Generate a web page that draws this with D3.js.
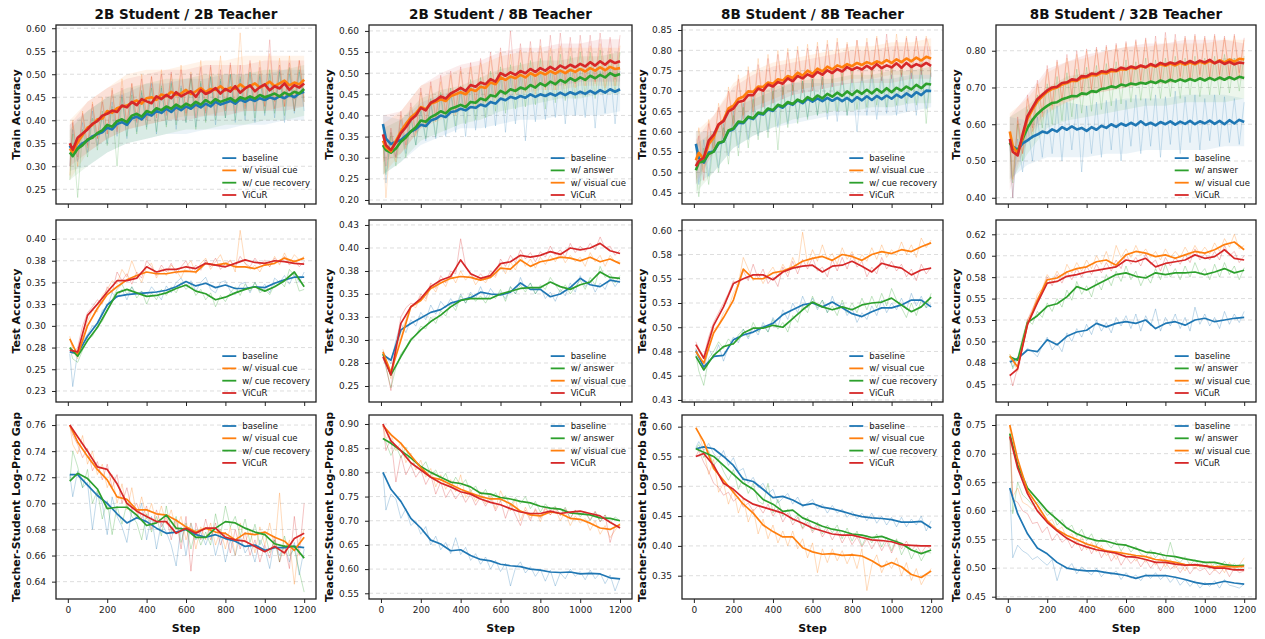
<!DOCTYPE html>
<html>
<head>
<meta charset="utf-8">
<script src="https://cdn.jsdelivr.net/npm/d3@7"></script>
<style>
  body { margin: 0; background: #fff; }
  svg { display: block; }
</style>
</head>
<body>
<svg id="chart" width="1265" height="639"></svg>
<script>
// x positions shared by all panels
var rawSteps = [10].concat(d3.range(25, 1201, 25)); // 49 points
var smoothSteps = [10].concat(d3.range(50, 1201, 50)); // 25 points
var bandSteps = [10].concat(d3.range(100, 1201, 100)); // 13 points
var xTicks = [0, 200, 400, 600, 800, 1000, 1200];

var titles = ["2B Student / 2B Teacher", "2B Student / 8B Teacher", "8B Student / 8B Teacher", "8B Student / 32B Teacher"];
var rowLabels = ["Train Accuracy", "Test Accuracy", "Teacher-Student Log-Prob Gap"];
var legendCue = ["baseline", "w/ visual cue", "w/ cue recovery", "ViCuR"];
var legendAnswer = ["baseline", "w/ answer", "w/ visual cue", "ViCuR"];

// y ticks
var ticksTrain2t2 = [0.25, 0.30, 0.35, 0.40, 0.45, 0.50, 0.55, 0.60];
var ticksTrain2t8 = [0.20, 0.25, 0.30, 0.35, 0.40, 0.45, 0.50, 0.55, 0.60];
var ticksTrain8t8 = [0.45, 0.50, 0.55, 0.60, 0.65, 0.70, 0.75, 0.80, 0.85];
var ticksTrain8t32 = [0.40, 0.50, 0.60, 0.70, 0.80];
var ticksTest2t2 = [0.225, 0.25, 0.275, 0.30, 0.325, 0.35, 0.375, 0.40];
var labelsTest2t2 = ["0.23", "0.25", "0.28", "0.30", "0.33", "0.35", "0.38", "0.40"];
var ticksTest2t8 = [0.25, 0.275, 0.30, 0.325, 0.35, 0.375, 0.40, 0.425];
var labelsTest2t8 = ["0.25", "0.28", "0.30", "0.33", "0.35", "0.38", "0.40", "0.43"];
var ticksTest8t8 = [0.425, 0.45, 0.475, 0.50, 0.525, 0.55, 0.575, 0.60];
var labelsTest8t8 = ["0.43", "0.45", "0.48", "0.50", "0.53", "0.55", "0.58", "0.60"];
var ticksTest8t32 = [0.45, 0.475, 0.50, 0.525, 0.55, 0.575, 0.60, 0.625];
var labelsTest8t32 = ["0.45", "0.48", "0.50", "0.53", "0.55", "0.58", "0.60", "0.62"];
var ticksGap2t2 = [0.64, 0.66, 0.68, 0.70, 0.72, 0.74, 0.76];
var ticksGap2t8 = [0.55, 0.60, 0.65, 0.70, 0.75, 0.80, 0.85, 0.90];
var ticksGap8t8 = [0.35, 0.40, 0.45, 0.50, 0.55, 0.60];
var ticksGap8t32 = [0.45, 0.50, 0.55, 0.60, 0.65, 0.70, 0.75];

// ---- train accuracy, smoothed (rawSteps) ----
var s2t2TrainBaseline = [0.345,0.332,0.340,0.350,0.356,0.365,0.370,
  0.374,0.384,0.380,0.392,0.396,0.390,0.404, 0.408,0.402,0.414,0.410,0.420,0.416,0.425,
  0.418,0.428,0.422,0.430,0.425,0.434,0.428, 0.436,0.430,0.440,0.434,0.438,0.442,0.436,
  0.445,0.440,0.446,0.442,0.448,0.444,0.450, 0.446,0.452,0.448,0.455,0.450,0.458,0.462];
var s2t2TrainVisual = [0.338,0.330,0.352,0.368,0.384,0.390,0.402,
  0.404,0.420,0.416,0.426,0.430,0.432,0.438, 0.443,0.436,0.448,0.450,0.444,0.456,0.452,
  0.462,0.455,0.458,0.466,0.457,0.463,0.470, 0.461,0.468,0.466,0.474,0.465,0.471,0.468,
  0.478,0.470,0.474,0.480,0.471,0.477,0.484, 0.474,0.480,0.486,0.476,0.482,0.478,0.488];
var s2t2TrainRecovery = [0.330,0.322,0.338,0.346,0.358,0.362,0.372,
  0.378,0.390,0.386,0.398,0.402,0.396,0.410, 0.414,0.408,0.420,0.416,0.426,0.422,0.430,
  0.425,0.434,0.428,0.436,0.431,0.440,0.434, 0.444,0.437,0.446,0.440,0.444,0.448,0.441,
  0.450,0.446,0.452,0.447,0.455,0.450,0.454, 0.458,0.452,0.460,0.455,0.462,0.458,0.468];
var s2t2TrainVicur = [0.350,0.336,0.362,0.371,0.380,0.392,0.398,
  0.410,0.414,0.421,0.418,0.432,0.428,0.440, 0.433,0.446,0.441,0.437,0.452,0.446,0.455,
  0.448,0.461,0.452,0.458,0.463,0.451,0.466, 0.457,0.462,0.470,0.458,0.468,0.462,0.474,
  0.460,0.469,0.476,0.463,0.472,0.478,0.465, 0.474,0.469,0.480,0.466,0.476,0.471,0.480];

var s2t8TrainBaseline = [0.380,0.345,0.332,0.338,0.342,0.352,0.362,
  0.368,0.378,0.375,0.388,0.392,0.400,0.396, 0.408,0.410,0.416,0.412,0.420,0.418,0.426,
  0.422,0.432,0.428,0.440,0.436,0.444,0.440, 0.446,0.442,0.450,0.444,0.450,0.446,0.452,
  0.447,0.454,0.448,0.455,0.450,0.456,0.451, 0.458,0.452,0.460,0.454,0.462,0.456,0.462];
var s2t8TrainAnswer = [0.330,0.318,0.312,0.322,0.338,0.348,0.362,
  0.372,0.388,0.385,0.396,0.402,0.410,0.405, 0.416,0.420,0.425,0.420,0.432,0.430,0.440,
  0.436,0.448,0.445,0.458,0.452,0.462,0.458, 0.466,0.462,0.472,0.466,0.476,0.470,0.480,
  0.474,0.484,0.478,0.488,0.482,0.490,0.484, 0.494,0.488,0.496,0.490,0.500,0.494,0.498];
var s2t8TrainVisual = [0.340,0.325,0.315,0.340,0.362,0.380,0.395,
  0.405,0.420,0.415,0.428,0.432,0.438,0.434, 0.446,0.450,0.455,0.450,0.462,0.458,0.468,
  0.465,0.478,0.474,0.490,0.484,0.492,0.488, 0.496,0.490,0.500,0.494,0.502,0.497,0.505,
  0.499,0.506,0.500,0.508,0.503,0.510,0.504, 0.512,0.506,0.514,0.507,0.515,0.510,0.512];
var s2t8TrainVicur = [0.355,0.330,0.318,0.336,0.358,0.372,0.390,
  0.400,0.418,0.412,0.430,0.436,0.445,0.440, 0.452,0.458,0.465,0.458,0.472,0.468,0.478,
  0.474,0.486,0.480,0.500,0.494,0.502,0.496, 0.505,0.500,0.510,0.503,0.512,0.506,0.515,
  0.508,0.518,0.512,0.520,0.514,0.522,0.516, 0.526,0.518,0.528,0.520,0.530,0.524,0.528];

var s8t8TrainBaseline = [0.570,0.535,0.524,0.549,0.551,0.571,0.576,
  0.601,0.606,0.622,0.621,0.635,0.631,0.645, 0.642,0.655,0.651,0.664,0.659,0.671,0.666,
  0.677,0.670,0.681,0.674,0.682,0.675,0.683, 0.676,0.683,0.675,0.683,0.674,0.685,0.677,
  0.687,0.678,0.688,0.680,0.689,0.681,0.691, 0.684,0.694,0.686,0.697,0.690,0.701,0.700];
var s8t8TrainVisual = [0.530,0.548,0.532,0.569,0.586,0.617,0.628,
  0.657,0.664,0.681,0.686,0.699,0.698,0.711, 0.710,0.721,0.718,0.729,0.726,0.737,0.732,
  0.745,0.738,0.750,0.742,0.755,0.748,0.760, 0.753,0.763,0.758,0.766,0.761,0.769,0.764,
  0.771,0.766,0.773,0.768,0.776,0.769,0.778, 0.771,0.780,0.773,0.782,0.775,0.784,0.780];
var s8t8TrainRecovery = [0.505,0.524,0.527,0.545,0.551,0.573,0.576,
  0.603,0.608,0.625,0.623,0.637,0.633,0.647, 0.644,0.657,0.653,0.666,0.662,0.673,0.668,
  0.679,0.673,0.685,0.678,0.689,0.682,0.693, 0.686,0.696,0.688,0.699,0.690,0.701,0.693,
  0.703,0.694,0.705,0.696,0.707,0.697,0.708, 0.701,0.711,0.704,0.715,0.707,0.718,0.716];
var s8t8TrainVicur = [0.515,0.528,0.536,0.578,0.592,0.618,0.626,
  0.650,0.657,0.673,0.676,0.690,0.690,0.706, 0.701,0.716,0.711,0.722,0.718,0.731,0.724,
  0.737,0.731,0.741,0.735,0.747,0.740,0.751, 0.744,0.754,0.748,0.759,0.752,0.758,0.753,
  0.762,0.754,0.766,0.756,0.763,0.758,0.768, 0.757,0.769,0.759,0.766,0.761,0.769,0.762];

var s8t32TrainBaseline = [0.550,0.540,0.530,0.548,0.556,0.566,0.572,
  0.580,0.576,0.586,0.580,0.592,0.585,0.594, 0.586,0.590,0.582,0.592,0.585,0.596,0.590,
  0.600,0.593,0.602,0.596,0.604,0.597,0.608, 0.598,0.604,0.597,0.606,0.600,0.608,0.599,
  0.607,0.601,0.609,0.600,0.608,0.602,0.610, 0.601,0.609,0.600,0.611,0.602,0.612,0.606];
var s8t32TrainAnswer = [0.550,0.535,0.528,0.560,0.590,0.612,0.628,
  0.640,0.650,0.658,0.660,0.668,0.672,0.677, 0.676,0.684,0.682,0.690,0.688,0.696,0.698,
  0.703,0.700,0.708,0.705,0.711,0.708,0.713, 0.710,0.716,0.712,0.719,0.714,0.721,0.716,
  0.722,0.717,0.723,0.718,0.725,0.719,0.726, 0.720,0.727,0.721,0.728,0.722,0.729,0.726];
var s8t32TrainVisual = [0.580,0.540,0.520,0.565,0.615,0.640,0.662,
  0.676,0.688,0.696,0.700,0.708,0.712,0.718, 0.718,0.726,0.728,0.734,0.733,0.740,0.738,
  0.745,0.744,0.750,0.749,0.754,0.752,0.758, 0.755,0.761,0.757,0.763,0.759,0.765,0.760,
  0.767,0.762,0.768,0.763,0.770,0.765,0.772, 0.766,0.774,0.768,0.776,0.770,0.778,0.776];
var s8t32TrainVicur = [0.560,0.525,0.515,0.572,0.622,0.645,0.668,
  0.680,0.692,0.700,0.702,0.712,0.714,0.722, 0.720,0.731,0.730,0.738,0.736,0.744,0.742,
  0.749,0.746,0.754,0.750,0.757,0.753,0.760, 0.755,0.764,0.758,0.767,0.762,0.768,0.764,
  0.771,0.765,0.772,0.766,0.773,0.768,0.775, 0.766,0.772,0.764,0.770,0.763,0.768,0.766];

// ---- train accuracy, raw per-step readings (rawSteps) ----
var s2t2TrainBaselineRaw = [0.300,0.380,0.310,0.395,0.330,0.420,0.345,
  0.410,0.350,0.440,0.365,0.455,0.360,0.470, 0.375,0.460,0.385,0.480,0.370,0.470,0.390,
  0.485,0.380,0.475,0.395,0.500,0.385,0.480, 0.400,0.495,0.390,0.485,0.405,0.500,0.395,
  0.490,0.400,0.505,0.395,0.495,0.410,0.500, 0.405,0.510,0.395,0.500,0.415,0.505,0.420];
var s2t2TrainVisualRaw = [0.280,0.400,0.300,0.420,0.340,0.440,0.360,
  0.450,0.370,0.470,0.380,0.490,0.390,0.480, 0.400,0.500,0.405,0.495,0.410,0.510,0.415,
  0.500,0.420,0.520,0.410,0.505,0.425,0.530, 0.420,0.515,0.430,0.540,0.425,0.520,0.435,
  0.590,0.430,0.525,0.440,0.530,0.430,0.545, 0.440,0.535,0.430,0.540,0.445,0.530,0.450];
var s2t2TrainRecoveryRaw = [0.270,0.370,0.232,0.380,0.320,0.405,0.335,
  0.420,0.345,0.430,0.300,0.450,0.365,0.455, 0.370,0.465,0.380,0.470,0.375,0.475,0.385,
  0.480,0.390,0.470,0.395,0.490,0.380,0.485, 0.395,0.495,0.400,0.490,0.405,0.500,0.400,
  0.495,0.410,0.505,0.405,0.500,0.415,0.510, 0.415,0.505,0.410,0.515,0.420,0.510,0.440];
var s2t2TrainVicurRaw = [0.300,0.395,0.320,0.415,0.345,0.435,0.360,
  0.440,0.370,0.465,0.375,0.470,0.390,0.480, 0.395,0.490,0.400,0.495,0.405,0.500,0.410,
  0.505,0.400,0.510,0.415,0.500,0.405,0.515, 0.415,0.520,0.410,0.510,0.420,0.525,0.415,
  0.520,0.425,0.530,0.420,0.515,0.430,0.575, 0.425,0.520,0.430,0.525,0.420,0.530,0.440];

var s2t8TrainBaselineRaw = [0.380,0.240,0.360,0.300,0.390,0.310,0.400,
  0.330,0.410,0.340,0.430,0.345,0.445,0.350, 0.455,0.360,0.460,0.350,0.475,0.365,0.480,
  0.370,0.485,0.375,0.495,0.360,0.490,0.380, 0.500,0.340,0.495,0.385,0.505,0.390,0.500,
  0.395,0.510,0.380,0.505,0.400,0.510,0.395, 0.515,0.370,0.505,0.405,0.510,0.380,0.505];
var s2t8TrainAnswerRaw = [0.330,0.260,0.350,0.280,0.370,0.300,0.395,
  0.330,0.420,0.345,0.440,0.350,0.455,0.365, 0.465,0.375,0.470,0.380,0.485,0.390,0.490,
  0.395,0.505,0.410,0.515,0.405,0.520,0.415, 0.525,0.420,0.530,0.425,0.535,0.415,0.540,
  0.430,0.545,0.435,0.540,0.440,0.550,0.445, 0.550,0.440,0.555,0.450,0.545,0.455,0.550];
var s2t8TrainVisualRaw = [0.340,0.205,0.360,0.290,0.400,0.320,0.420,
  0.350,0.455,0.370,0.470,0.385,0.480,0.395, 0.495,0.400,0.505,0.410,0.515,0.420,0.525,
  0.430,0.540,0.440,0.550,0.445,0.545,0.450, 0.555,0.455,0.560,0.450,0.565,0.460,0.560,
  0.460,0.565,0.470,0.560,0.465,0.570,0.470, 0.565,0.475,0.570,0.465,0.560,0.470,0.565];
var s2t8TrainVicurRaw = [0.355,0.280,0.370,0.300,0.410,0.330,0.430,
  0.360,0.465,0.380,0.480,0.395,0.495,0.405, 0.505,0.410,0.515,0.420,0.525,0.430,0.535,
  0.440,0.550,0.450,0.560,0.455,0.600,0.460, 0.570,0.465,0.575,0.470,0.580,0.465,0.590,
  0.470,0.595,0.480,0.585,0.475,0.590,0.485, 0.590,0.480,0.595,0.490,0.585,0.485,0.590];

var s8t8TrainBaselineRaw = [0.570,0.470,0.580,0.490,0.600,0.510,0.620,
  0.540,0.650,0.560,0.670,0.580,0.690,0.590, 0.700,0.600,0.710,0.610,0.715,0.620,0.720,
  0.630,0.725,0.635,0.730,0.640,0.735,0.630, 0.730,0.625,0.735,0.640,0.730,0.600,0.735,
  0.640,0.740,0.630,0.735,0.645,0.740,0.640, 0.745,0.650,0.745,0.640,0.750,0.655,0.745];
var s8t8TrainVisualRaw = [0.530,0.610,0.500,0.630,0.560,0.670,0.590,
  0.710,0.620,0.740,0.640,0.760,0.650,0.780, 0.670,0.790,0.680,0.800,0.690,0.805,0.700,
  0.810,0.705,0.815,0.710,0.820,0.715,0.825, 0.720,0.830,0.725,0.820,0.730,0.825,0.735,
  0.830,0.735,0.835,0.740,0.825,0.745,0.840, 0.740,0.835,0.745,0.830,0.750,0.835,0.790];
var s8t8TrainRecoveryRaw = [0.505,0.440,0.560,0.470,0.580,0.500,0.610,
  0.520,0.640,0.540,0.660,0.560,0.680,0.580, 0.690,0.585,0.700,0.555,0.710,0.610,0.715,
  0.620,0.725,0.630,0.730,0.640,0.735,0.645, 0.740,0.650,0.745,0.640,0.750,0.655,0.745,
  0.660,0.755,0.665,0.750,0.660,0.760,0.665, 0.760,0.670,0.765,0.665,0.770,0.620,0.760];
var s8t8TrainVicurRaw = [0.515,0.590,0.480,0.620,0.550,0.660,0.580,
  0.700,0.610,0.730,0.630,0.750,0.640,0.765, 0.660,0.780,0.670,0.790,0.680,0.795,0.690,
  0.800,0.695,0.805,0.700,0.810,0.705,0.815, 0.710,0.820,0.715,0.815,0.720,0.825,0.725,
  0.820,0.730,0.830,0.725,0.840,0.730,0.825, 0.735,0.830,0.730,0.835,0.740,0.830,0.735];

var s8t32TrainBaselineRaw = [0.550,0.400,0.560,0.470,0.600,0.500,0.620,
  0.510,0.640,0.520,0.650,0.500,0.660,0.530, 0.655,0.470,0.650,0.520,0.660,0.510,0.665,
  0.530,0.670,0.500,0.665,0.540,0.680,0.520, 0.670,0.540,0.680,0.510,0.675,0.545,0.690,
  0.520,0.675,0.550,0.680,0.530,0.670,0.555, 0.680,0.540,0.675,0.550,0.670,0.545,0.660];
var s8t32TrainAnswerRaw = [0.550,0.440,0.600,0.500,0.640,0.560,0.680,
  0.590,0.710,0.600,0.730,0.610,0.740,0.620, 0.750,0.630,0.755,0.635,0.760,0.640,0.765,
  0.650,0.770,0.655,0.775,0.660,0.770,0.665, 0.780,0.665,0.775,0.670,0.780,0.675,0.785,
  0.670,0.780,0.680,0.785,0.675,0.780,0.680, 0.785,0.680,0.790,0.685,0.780,0.690,0.785];
var s8t32TrainVisualRaw = [0.580,0.450,0.610,0.520,0.670,0.580,0.710,
  0.620,0.750,0.640,0.770,0.660,0.780,0.670, 0.790,0.680,0.800,0.690,0.805,0.700,0.810,
  0.700,0.815,0.710,0.820,0.705,0.825,0.715, 0.830,0.715,0.825,0.720,0.835,0.720,0.830,
  0.725,0.835,0.720,0.840,0.730,0.835,0.725, 0.840,0.730,0.835,0.735,0.840,0.730,0.830];
var s8t32TrainVicurRaw = [0.560,0.400,0.620,0.520,0.680,0.590,0.720,
  0.630,0.760,0.650,0.775,0.665,0.790,0.680, 0.800,0.690,0.805,0.695,0.810,0.700,0.815,
  0.705,0.820,0.710,0.825,0.715,0.830,0.720, 0.835,0.715,0.840,0.720,0.850,0.725,0.845,
  0.730,0.840,0.725,0.845,0.735,0.840,0.730, 0.845,0.735,0.840,0.730,0.845,0.740,0.835];

// ---- train accuracy, raw spread (bandSteps) ----
var s2t2BandBaselineLo = [0.29,0.30,0.33,0.35,0.36,0.37,0.37,0.38,0.38,0.39,0.39,0.40,0.40];
var s2t2BandBaselineHi = [0.39,0.42,0.45,0.46,0.48,0.48,0.49,0.49,0.50,0.50,0.50,0.51,0.51];
var s2t2BandVisualLo = [0.27,0.33,0.36,0.38,0.39,0.40,0.41,0.41,0.42,0.42,0.42,0.43,0.43];
var s2t2BandVisualHi = [0.40,0.44,0.47,0.50,0.51,0.51,0.52,0.53,0.53,0.54,0.54,0.54,0.54];
var s2t2BandRecoveryLo = [0.27,0.30,0.33,0.35,0.36,0.37,0.38,0.38,0.39,0.39,0.40,0.40,0.41];
var s2t2BandRecoveryHi = [0.38,0.42,0.45,0.47,0.48,0.49,0.49,0.50,0.50,0.50,0.51,0.51,0.52];
var s2t2BandVicurLo = [0.30,0.33,0.36,0.38,0.39,0.40,0.40,0.41,0.41,0.42,0.42,0.42,0.43];
var s2t2BandVicurHi = [0.39,0.44,0.47,0.49,0.50,0.51,0.51,0.52,0.52,0.52,0.53,0.53,0.53];

var s2t8BandBaselineLo = [0.26,0.29,0.33,0.35,0.37,0.37,0.38,0.39,0.39,0.40,0.40,0.40,0.41];
var s2t8BandBaselineHi = [0.40,0.39,0.43,0.45,0.46,0.47,0.49,0.49,0.50,0.50,0.50,0.51,0.51];
var s2t8BandAnswerLo = [0.26,0.29,0.34,0.36,0.38,0.39,0.41,0.42,0.43,0.44,0.44,0.45,0.45];
var s2t8BandAnswerHi = [0.37,0.39,0.44,0.46,0.47,0.49,0.51,0.52,0.53,0.53,0.54,0.54,0.55];
var s2t8BandVisualLo = [0.26,0.31,0.37,0.39,0.41,0.42,0.44,0.45,0.46,0.46,0.47,0.47,0.47];
var s2t8BandVisualHi = [0.38,0.41,0.47,0.49,0.51,0.52,0.54,0.55,0.55,0.56,0.56,0.56,0.56];
var s2t8BandVicurLo = [0.29,0.31,0.37,0.40,0.42,0.43,0.45,0.46,0.47,0.47,0.48,0.48,0.48];
var s2t8BandVicurHi = [0.40,0.41,0.47,0.50,0.52,0.53,0.55,0.56,0.56,0.57,0.57,0.58,0.58];

var s8t8BandBaselineLo = [0.47,0.50,0.56,0.59,0.61,0.62,0.63,0.64,0.64,0.64,0.64,0.65,0.66];
var s8t8BandBaselineHi = [0.60,0.60,0.66,0.68,0.70,0.72,0.72,0.72,0.72,0.73,0.73,0.74,0.74];
var s8t8BandVisualLo = [0.48,0.55,0.62,0.66,0.68,0.70,0.71,0.72,0.73,0.73,0.74,0.74,0.74];
var s8t8BandVisualHi = [0.60,0.64,0.72,0.75,0.77,0.78,0.79,0.80,0.81,0.81,0.82,0.82,0.83];
var s8t8BandRecoveryLo = [0.45,0.50,0.56,0.59,0.61,0.63,0.64,0.65,0.65,0.66,0.66,0.67,0.67];
var s8t8BandRecoveryHi = [0.57,0.60,0.66,0.69,0.71,0.72,0.73,0.73,0.74,0.74,0.75,0.75,0.76];
var s8t8BandVicurLo = [0.47,0.55,0.61,0.65,0.67,0.69,0.70,0.71,0.72,0.72,0.72,0.73,0.73];
var s8t8BandVicurHi = [0.58,0.64,0.71,0.74,0.76,0.77,0.78,0.79,0.80,0.80,0.81,0.81,0.81];

var s8t32BandBaselineLo = [0.45,0.49,0.51,0.51,0.51,0.52,0.52,0.53,0.53,0.53,0.53,0.54,0.54];
var s8t32BandBaselineHi = [0.62,0.61,0.64,0.66,0.65,0.66,0.67,0.67,0.67,0.68,0.68,0.68,0.67];
var s8t32BandAnswerLo = [0.44,0.52,0.59,0.61,0.62,0.63,0.64,0.65,0.65,0.66,0.66,0.66,0.67];
var s8t32BandAnswerHi = [0.62,0.65,0.70,0.73,0.74,0.75,0.76,0.76,0.77,0.77,0.77,0.78,0.78];
var s8t32BandVisualLo = [0.45,0.55,0.63,0.66,0.68,0.69,0.70,0.71,0.71,0.72,0.72,0.72,0.73];
var s8t32BandVisualHi = [0.63,0.67,0.74,0.77,0.78,0.80,0.81,0.81,0.82,0.82,0.82,0.83,0.83];
var s8t32BandVicurLo = [0.42,0.56,0.64,0.66,0.68,0.69,0.70,0.71,0.71,0.72,0.72,0.72,0.72];
var s8t32BandVicurHi = [0.62,0.68,0.75,0.77,0.79,0.80,0.81,0.82,0.82,0.83,0.83,0.83,0.82];

// ---- test accuracy, smoothed (smoothSteps) ----
var s2t2TestBaseline = [0.270,0.268,0.288,0.303,0.324, 0.334,0.336,0.337,0.338,0.339, 0.341,0.345,0.351,0.346,0.349, 0.344,0.347,0.343,0.343,0.345, 0.344,0.349,0.353,0.356,0.356];
var s2t2TestVisual = [0.285,0.266,0.300,0.320,0.336, 0.345,0.353,0.358,0.362,0.360, 0.360,0.362,0.363,0.362,0.372, 0.370,0.372,0.368,0.368,0.366, 0.370,0.372,0.378,0.374,0.378];
var s2t2TestRecovery = [0.275,0.265,0.283,0.298,0.318, 0.338,0.342,0.338,0.334,0.335, 0.338,0.343,0.347,0.340,0.337, 0.330,0.333,0.338,0.342,0.345, 0.340,0.345,0.352,0.362,0.345];
var s2t2TestVicur = [0.272,0.270,0.312,0.325,0.339, 0.352,0.352,0.355,0.368,0.362, 0.365,0.365,0.368,0.366,0.372, 0.370,0.368,0.372,0.376,0.373, 0.372,0.375,0.374,0.372,0.371];

var s2t8TestBaseline = [0.284,0.278,0.311,0.318,0.324, 0.330,0.333,0.340,0.343,0.346, 0.352,0.350,0.349,0.352,0.362, 0.355,0.355,0.347,0.350,0.357, 0.367,0.360,0.358,0.365,0.363];
var s2t8TestAnswer = [0.285,0.262,0.282,0.300,0.311, 0.320,0.327,0.336,0.343,0.345, 0.345,0.345,0.350,0.353,0.356, 0.357,0.357,0.363,0.358,0.355, 0.360,0.363,0.374,0.368,0.367];
var s2t8TestVisual = [0.287,0.265,0.300,0.336,0.343, 0.356,0.362,0.367,0.369,0.368, 0.365,0.368,0.378,0.377,0.387, 0.380,0.385,0.387,0.390,0.389, 0.386,0.390,0.385,0.388,0.383];
var s2t8TestVicur = [0.282,0.262,0.318,0.336,0.345, 0.358,0.365,0.369,0.387,0.372, 0.367,0.370,0.383,0.385,0.392, 0.390,0.392,0.396,0.393,0.400, 0.398,0.400,0.405,0.397,0.394];

var s8t8TestBaseline = [0.476,0.459,0.470,0.471,0.487, 0.492,0.495,0.500,0.504,0.513, 0.518,0.523,0.525,0.521,0.526, 0.520,0.514,0.511,0.516,0.520, 0.520,0.523,0.528,0.528,0.521];
var s8t8TestVisual = [0.475,0.463,0.494,0.510,0.528, 0.560,0.550,0.550,0.556,0.558, 0.562,0.568,0.571,0.573,0.569, 0.575,0.573,0.569,0.575,0.578, 0.576,0.580,0.578,0.583,0.587];
var s8t8TestRecovery = [0.470,0.456,0.471,0.480,0.483, 0.494,0.499,0.499,0.502,0.500, 0.509,0.518,0.526,0.521,0.518, 0.521,0.518,0.523,0.525,0.526, 0.530,0.523,0.516,0.521,0.531];
var s8t8TestVicur = [0.482,0.468,0.502,0.521,0.545, 0.550,0.554,0.554,0.549,0.557, 0.561,0.563,0.564,0.557,0.563, 0.564,0.568,0.563,0.557,0.566, 0.563,0.561,0.554,0.559,0.561];

var s8t32TestBaseline = [0.476,0.480,0.490,0.488,0.502, 0.496,0.506,0.511,0.513,0.521, 0.517,0.521,0.523,0.521,0.525, 0.515,0.521,0.523,0.519,0.525, 0.527,0.523,0.525,0.527,0.528];
var s8t32TestAnswer = [0.482,0.478,0.522,0.530,0.541, 0.544,0.552,0.564,0.560,0.566, 0.572,0.578,0.580,0.576,0.574, 0.580,0.578,0.580,0.580,0.581, 0.578,0.581,0.585,0.580,0.583];
var s8t32TestVisual = [0.483,0.470,0.520,0.548,0.572, 0.574,0.581,0.585,0.587,0.593, 0.595,0.589,0.601,0.605,0.603, 0.599,0.601,0.597,0.601,0.605, 0.603,0.607,0.613,0.616,0.607];
var s8t32TestVicur = [0.460,0.468,0.520,0.545,0.568, 0.570,0.576,0.578,0.581,0.583, 0.585,0.587,0.595,0.593,0.597, 0.587,0.591,0.593,0.595,0.601, 0.597,0.599,0.607,0.597,0.595];

// ---- test accuracy, raw (rawSteps) ----
var s2t2TestBaselineRaw = [0.268,0.230,0.270,0.282,0.290,0.300,0.298,
  0.318,0.322,0.338,0.332,0.342,0.330,0.345, 0.336,0.340,0.334,0.345,0.338,0.330,0.346,
  0.338,0.350,0.355,0.345,0.352,0.340,0.350, 0.356,0.342,0.338,0.350,0.352,0.340,0.336,
  0.348,0.350,0.338,0.350,0.340,0.348,0.338, 0.355,0.350,0.358,0.348,0.360,0.350,0.362];
var s2t2TestVisualRaw = [0.288,0.272,0.262,0.285,0.305,0.318,0.316,
  0.335,0.342,0.352,0.348,0.365,0.356,0.375, 0.360,0.350,0.368,0.372,0.355,0.366,0.358,
  0.370,0.364,0.355,0.368,0.375,0.360,0.372, 0.378,0.365,0.374,0.382,0.368,0.376,0.362,
  0.410,0.372,0.365,0.370,0.362,0.374,0.368, 0.380,0.370,0.384,0.372,0.382,0.376,0.380];
var s2t2TestRecoveryRaw = [0.275,0.262,0.258,0.272,0.285,0.288,0.300,
  0.305,0.318,0.330,0.342,0.348,0.336,0.345, 0.332,0.340,0.325,0.338,0.330,0.342,0.335,
  0.345,0.338,0.350,0.342,0.348,0.335,0.342, 0.330,0.338,0.322,0.335,0.328,0.338,0.345,
  0.335,0.348,0.340,0.350,0.338,0.342,0.336, 0.348,0.352,0.345,0.365,0.358,0.340,0.342];
var s2t2TestVicurRaw = [0.272,0.268,0.275,0.300,0.315,0.322,0.330,
  0.325,0.345,0.338,0.362,0.352,0.360,0.348, 0.362,0.355,0.375,0.368,0.358,0.370,0.362,
  0.372,0.360,0.368,0.375,0.362,0.370,0.364, 0.376,0.368,0.378,0.365,0.372,0.375,0.368,
  0.380,0.372,0.368,0.378,0.370,0.376,0.368, 0.378,0.372,0.380,0.370,0.376,0.368,0.374];

var s2t8TestBaselineRaw = [0.288,0.282,0.274,0.300,0.318,0.308,0.322,
  0.315,0.330,0.322,0.338,0.328,0.342,0.335, 0.345,0.336,0.350,0.340,0.352,0.345,0.358,
  0.345,0.356,0.348,0.352,0.345,0.358,0.350, 0.368,0.355,0.362,0.350,0.358,0.345,0.352,
  0.342,0.355,0.348,0.362,0.352,0.370,0.358, 0.365,0.352,0.362,0.355,0.368,0.358,0.366];
var s2t8TestAnswerRaw = [0.285,0.270,0.248,0.270,0.285,0.292,0.302,
  0.305,0.315,0.312,0.325,0.318,0.332,0.326, 0.340,0.332,0.348,0.340,0.350,0.342,0.348,
  0.340,0.350,0.345,0.355,0.342,0.358,0.350, 0.360,0.352,0.362,0.350,0.360,0.355,0.368,
  0.360,0.352,0.360,0.350,0.358,0.365,0.355, 0.368,0.360,0.380,0.368,0.372,0.362,0.370];
var s2t8TestVisualRaw = [0.290,0.278,0.258,0.285,0.308,0.322,0.338,
  0.335,0.348,0.342,0.360,0.352,0.366,0.358, 0.372,0.362,0.375,0.365,0.372,0.360,0.368,
  0.362,0.372,0.368,0.382,0.372,0.385,0.376, 0.392,0.380,0.388,0.378,0.390,0.382,0.392,
  0.385,0.395,0.384,0.392,0.385,0.390,0.380, 0.395,0.385,0.392,0.380,0.392,0.385,0.386];
var s2t8TestVicurRaw = [0.280,0.272,0.245,0.292,0.325,0.335,0.340,
  0.338,0.350,0.345,0.362,0.356,0.370,0.362, 0.375,0.372,0.410,0.380,0.372,0.365,0.372,
  0.365,0.375,0.370,0.388,0.380,0.392,0.384, 0.398,0.388,0.395,0.385,0.396,0.390,0.402,
  0.392,0.398,0.390,0.405,0.395,0.402,0.396, 0.405,0.398,0.412,0.400,0.402,0.392,0.398];

var s8t8TestBaselineRaw = [0.478,0.465,0.455,0.478,0.468,0.482,0.465,
  0.480,0.490,0.484,0.498,0.488,0.500,0.492, 0.505,0.495,0.510,0.500,0.518,0.508,0.525,
  0.515,0.532,0.520,0.530,0.518,0.528,0.515, 0.532,0.518,0.525,0.512,0.520,0.505,0.515,
  0.508,0.522,0.512,0.528,0.515,0.525,0.518, 0.530,0.518,0.535,0.522,0.532,0.520,0.524];
var s8t8TestVisualRaw = [0.478,0.470,0.458,0.482,0.498,0.502,0.515,
  0.520,0.535,0.545,0.572,0.560,0.548,0.556, 0.545,0.555,0.562,0.552,0.565,0.556,0.572,
  0.560,0.598,0.565,0.580,0.568,0.585,0.570, 0.576,0.565,0.582,0.570,0.578,0.565,0.575,
  0.568,0.582,0.570,0.585,0.572,0.580,0.574, 0.588,0.575,0.585,0.572,0.592,0.582,0.590];
var s8t8TestRecoveryRaw = [0.472,0.455,0.440,0.468,0.475,0.485,0.478,
  0.488,0.482,0.492,0.498,0.490,0.505,0.495, 0.502,0.495,0.508,0.498,0.505,0.495,0.512,
  0.505,0.522,0.515,0.532,0.520,0.528,0.515, 0.522,0.512,0.528,0.515,0.525,0.515,0.530,
  0.518,0.532,0.520,0.535,0.522,0.540,0.528, 0.520,0.510,0.525,0.512,0.528,0.520,0.535];
var s8t8TestVicurRaw = [0.485,0.478,0.470,0.490,0.505,0.515,0.525,
  0.535,0.548,0.542,0.558,0.548,0.565,0.550, 0.560,0.545,0.552,0.542,0.562,0.552,0.568,
  0.555,0.570,0.560,0.572,0.558,0.562,0.552, 0.570,0.558,0.572,0.560,0.575,0.562,0.568,
  0.552,0.562,0.555,0.572,0.560,0.568,0.558, 0.565,0.552,0.560,0.548,0.565,0.555,0.562];

var s8t32TestBaselineRaw = [0.478,0.470,0.482,0.485,0.492,0.488,0.482,
  0.495,0.505,0.490,0.498,0.488,0.510,0.500, 0.515,0.505,0.520,0.508,0.525,0.512,0.522,
  0.510,0.528,0.518,0.530,0.515,0.532,0.512, 0.530,0.518,0.538,0.512,0.528,0.518,0.532,
  0.515,0.528,0.512,0.540,0.520,0.532,0.518, 0.528,0.515,0.535,0.520,0.532,0.522,0.535];
var s8t32TestAnswerRaw = [0.485,0.468,0.480,0.505,0.525,0.520,0.535,
  0.528,0.545,0.535,0.550,0.540,0.560,0.548, 0.570,0.555,0.565,0.552,0.572,0.560,0.578,
  0.565,0.582,0.570,0.588,0.572,0.582,0.565, 0.578,0.568,0.585,0.572,0.590,0.575,0.585,
  0.572,0.588,0.575,0.592,0.578,0.585,0.572, 0.590,0.575,0.592,0.578,0.588,0.572,0.586];
var s8t32TestVisualRaw = [0.485,0.478,0.465,0.500,0.525,0.535,0.555,
  0.562,0.578,0.570,0.582,0.572,0.590,0.580, 0.592,0.582,0.595,0.585,0.600,0.590,0.605,
  0.588,0.612,0.598,0.608,0.598,0.612,0.600, 0.608,0.598,0.605,0.595,0.608,0.598,0.605,
  0.598,0.610,0.600,0.612,0.602,0.610,0.602, 0.615,0.605,0.620,0.610,0.625,0.608,0.612];
var s8t32TestVicurRaw = [0.462,0.448,0.470,0.500,0.525,0.538,0.550,
  0.560,0.575,0.565,0.578,0.568,0.582,0.572, 0.585,0.575,0.588,0.578,0.590,0.580,0.592,
  0.582,0.595,0.585,0.602,0.590,0.598,0.588, 0.602,0.590,0.595,0.582,0.598,0.588,0.598,
  0.590,0.602,0.592,0.608,0.595,0.602,0.595, 0.605,0.595,0.612,0.600,0.605,0.592,0.600];

// ---- log-prob gap, smoothed (smoothSteps) ----
var s2t2GapBaseline = [0.722,0.722,0.714,0.706,0.700, 0.692,0.685,0.689,0.686,0.681, 0.677,0.678,0.680,0.676,0.674, 0.676,0.673,0.671,0.667,0.668, 0.664,0.666,0.666,0.667,0.666];
var s2t2GapVisual = [0.760,0.747,0.736,0.726,0.718, 0.705,0.703,0.695,0.695,0.692, 0.691,0.687,0.682,0.678,0.681, 0.678,0.677,0.672,0.677,0.676, 0.678,0.674,0.671,0.664,0.674];
var s2t2GapRecovery = [0.717,0.723,0.719,0.711,0.696, 0.697,0.697,0.691,0.683,0.685, 0.691,0.681,0.680,0.674,0.674, 0.681,0.686,0.685,0.681,0.678, 0.676,0.669,0.667,0.667,0.658];
var s2t2GapVicur = [0.760,0.751,0.740,0.728,0.726, 0.715,0.700,0.694,0.690,0.686, 0.686,0.677,0.681,0.677,0.681, 0.681,0.674,0.672,0.671,0.667, 0.663,0.667,0.662,0.673,0.677];

var s2t8GapBaseline = [0.800,0.765,0.740,0.705,0.685, 0.660,0.652,0.638,0.640,0.628, 0.620,0.617,0.610,0.607,0.605, 0.600,0.598,0.594,0.593,0.594, 0.590,0.591,0.590,0.582,0.580];
var s2t8GapAnswer = [0.870,0.860,0.845,0.830,0.812, 0.800,0.790,0.780,0.777,0.770, 0.757,0.755,0.748,0.745,0.740, 0.737,0.730,0.726,0.724,0.716, 0.714,0.712,0.706,0.705,0.700];
var s2t8GapVisual = [0.897,0.878,0.860,0.835,0.810, 0.790,0.785,0.775,0.765,0.757, 0.750,0.745,0.745,0.735,0.720, 0.712,0.710,0.718,0.715,0.705, 0.703,0.695,0.685,0.682,0.692];
var s2t8GapVicur = [0.900,0.865,0.845,0.820,0.805, 0.790,0.778,0.770,0.760,0.755, 0.745,0.738,0.733,0.725,0.718, 0.715,0.715,0.720,0.715,0.718, 0.720,0.715,0.710,0.697,0.685];

var s8t8GapBaseline = [0.563,0.566,0.563,0.550,0.535, 0.512,0.508,0.495,0.481,0.483, 0.477,0.468,0.471,0.465,0.462, 0.458,0.453,0.449,0.447,0.446, 0.444,0.440,0.440,0.441,0.430];
var s8t8GapVisual = [0.598,0.575,0.530,0.510,0.490, 0.470,0.455,0.435,0.424,0.415, 0.415,0.397,0.390,0.386,0.387, 0.384,0.385,0.383,0.375,0.365, 0.372,0.365,0.352,0.347,0.358];
var s8t8GapRecovery = [0.563,0.557,0.550,0.535,0.520, 0.505,0.495,0.478,0.470,0.458, 0.460,0.447,0.440,0.433,0.428, 0.425,0.420,0.418,0.414,0.416, 0.410,0.404,0.393,0.387,0.393];
var s8t8GapVicur = [0.550,0.555,0.535,0.505,0.495, 0.480,0.470,0.465,0.460,0.455, 0.445,0.438,0.430,0.425,0.420, 0.418,0.418,0.414,0.410,0.409, 0.407,0.402,0.401,0.400,0.400];

var s8t32GapBaseline = [0.640,0.595,0.560,0.535,0.525, 0.510,0.500,0.497,0.495,0.495, 0.492,0.490,0.487,0.482,0.487, 0.487,0.487,0.484,0.480,0.475, 0.472,0.473,0.477,0.474,0.472];
var s8t32GapAnswer = [0.735,0.680,0.640,0.620,0.600, 0.585,0.570,0.560,0.553,0.548, 0.547,0.542,0.540,0.534,0.528, 0.526,0.522,0.520,0.516,0.513, 0.510,0.510,0.506,0.504,0.505];
var s8t32GapVisual = [0.750,0.690,0.635,0.610,0.583, 0.567,0.557,0.550,0.542,0.537, 0.530,0.528,0.525,0.522,0.520, 0.515,0.513,0.510,0.506,0.505, 0.504,0.502,0.503,0.502,0.503];
var s8t32GapVicur = [0.730,0.675,0.630,0.600,0.580, 0.565,0.552,0.543,0.537,0.532, 0.529,0.526,0.520,0.519,0.515, 0.510,0.510,0.507,0.505,0.506, 0.504,0.500,0.500,0.497,0.497];

// ---- log-prob gap, raw (rawSteps) ----
var s2t2GapBaselineRaw = [0.722,0.705,0.725,0.712,0.716,0.680,0.708,
  0.700,0.676,0.705,0.690,0.682,0.670,0.695, 0.688,0.700,0.672,0.690,0.665,0.685,0.678,
  0.668,0.652,0.682,0.660,0.685,0.672,0.678, 0.668,0.680,0.660,0.675,0.655,0.672,0.660,
  0.675,0.662,0.668,0.655,0.672,0.665,0.650, 0.672,0.660,0.668,0.655,0.670,0.645,0.665];
var s2t2GapVisualRaw = [0.760,0.745,0.738,0.752,0.730,0.740,0.722,
  0.730,0.712,0.722,0.700,0.715,0.695,0.712, 0.690,0.705,0.688,0.700,0.685,0.698,0.684,
  0.695,0.680,0.690,0.672,0.685,0.665,0.682, 0.672,0.685,0.668,0.680,0.665,0.682,0.660,
  0.685,0.670,0.680,0.662,0.682,0.668,0.685, 0.665,0.708,0.660,0.672,0.638,0.672,0.680];
var s2t2GapRecoveryRaw = [0.717,0.740,0.728,0.712,0.726,0.700,0.710,
  0.688,0.702,0.676,0.698,0.684,0.700,0.690, 0.685,0.672,0.692,0.678,0.690,0.675,0.698,
  0.678,0.690,0.670,0.685,0.665,0.680,0.668, 0.678,0.668,0.692,0.675,0.698,0.682,0.690,
  0.675,0.688,0.670,0.684,0.668,0.678,0.662, 0.672,0.655,0.675,0.660,0.665,0.648,0.632];
var s2t2GapVicurRaw = [0.760,0.752,0.745,0.735,0.742,0.725,0.732,
  0.718,0.730,0.712,0.722,0.700,0.712,0.695, 0.700,0.688,0.698,0.680,0.695,0.682,0.690,
  0.672,0.688,0.665,0.690,0.648,0.685,0.672, 0.688,0.672,0.685,0.668,0.678,0.662,0.680,
  0.665,0.678,0.660,0.672,0.655,0.668,0.658, 0.675,0.655,0.668,0.650,0.690,0.660,0.700];

var s2t8GapBaselineRaw = [0.800,0.722,0.755,0.745,0.705,0.725,0.690,
  0.700,0.672,0.688,0.650,0.668,0.640,0.655, 0.632,0.665,0.630,0.645,0.618,0.632,0.610,
  0.625,0.600,0.618,0.595,0.612,0.565,0.602, 0.615,0.592,0.605,0.585,0.600,0.575,0.598,
  0.565,0.592,0.580,0.600,0.585,0.595,0.578, 0.598,0.580,0.592,0.570,0.588,0.555,0.582];
var s2t8GapAnswerRaw = [0.870,0.862,0.835,0.855,0.830,0.852,0.815,
  0.820,0.808,0.822,0.795,0.805,0.782,0.798, 0.770,0.790,0.772,0.785,0.760,0.772,0.750,
  0.765,0.742,0.758,0.740,0.752,0.730,0.748, 0.735,0.750,0.725,0.740,0.718,0.735,0.722,
  0.730,0.712,0.728,0.705,0.722,0.708,0.718, 0.700,0.718,0.698,0.712,0.695,0.708,0.700];
var s2t8GapVisualRaw = [0.897,0.870,0.880,0.845,0.862,0.820,0.840,
  0.805,0.825,0.790,0.808,0.770,0.795,0.765, 0.785,0.760,0.795,0.748,0.765,0.740,0.760,
  0.735,0.755,0.725,0.762,0.740,0.720,0.745, 0.700,0.728,0.705,0.722,0.698,0.725,0.712,
  0.725,0.700,0.718,0.690,0.710,0.695,0.705, 0.680,0.700,0.672,0.690,0.665,0.680,0.695];
var s2t8GapVicurRaw = [0.900,0.845,0.870,0.780,0.835,0.795,0.815,
  0.790,0.805,0.775,0.795,0.755,0.780,0.748, 0.765,0.745,0.760,0.738,0.755,0.732,0.750,
  0.730,0.748,0.720,0.742,0.705,0.735,0.712, 0.690,0.722,0.700,0.725,0.705,0.728,0.712,
  0.728,0.710,0.725,0.705,0.722,0.712,0.718, 0.702,0.720,0.698,0.712,0.655,0.690,0.688];

var s8t8GapBaselineRaw = [0.565,0.575,0.560,0.572,0.555,0.545,0.560,
  0.535,0.548,0.525,0.530,0.505,0.515,0.498, 0.505,0.488,0.495,0.472,0.480,0.488,0.470,
  0.482,0.465,0.472,0.478,0.462,0.470,0.455, 0.468,0.455,0.462,0.448,0.458,0.445,0.455,
  0.442,0.455,0.438,0.450,0.435,0.448,0.432, 0.448,0.432,0.445,0.435,0.450,0.425,0.442];
var s8t8GapVisualRaw = [0.600,0.590,0.560,0.520,0.545,0.490,0.505,
  0.470,0.495,0.455,0.480,0.440,0.462,0.420, 0.445,0.412,0.435,0.405,0.425,0.400,0.425,
  0.395,0.412,0.380,0.405,0.355,0.395,0.372, 0.395,0.375,0.392,0.370,0.388,0.362,0.395,
  0.325,0.368,0.385,0.355,0.375,0.362,0.380, 0.350,0.372,0.342,0.362,0.335,0.350,0.362];
var s8t8GapRecoveryRaw = [0.563,0.570,0.548,0.560,0.535,0.545,0.525,
  0.510,0.528,0.495,0.515,0.488,0.505,0.475, 0.470,0.505,0.455,0.478,0.450,0.462,0.442,
  0.452,0.430,0.448,0.425,0.440,0.420,0.435, 0.422,0.435,0.412,0.430,0.408,0.425,0.400,
  0.418,0.405,0.420,0.398,0.415,0.392,0.412, 0.385,0.402,0.378,0.395,0.375,0.390,0.388];
var s8t8GapVicurRaw = [0.550,0.560,0.540,0.525,0.505,0.498,0.485,
  0.490,0.475,0.482,0.465,0.472,0.458,0.468, 0.455,0.470,0.450,0.462,0.440,0.455,0.435,
  0.448,0.428,0.440,0.422,0.435,0.415,0.428, 0.410,0.425,0.405,0.420,0.402,0.415,0.398,
  0.412,0.395,0.410,0.392,0.408,0.388,0.410, 0.395,0.408,0.392,0.402,0.388,0.400,0.395];

var s8t32GapBaselineRaw = [0.640,0.518,0.540,0.530,0.525,0.515,0.520,
  0.512,0.505,0.515,0.478,0.505,0.498,0.508, 0.490,0.502,0.495,0.488,0.500,0.485,0.495,
  0.488,0.495,0.480,0.492,0.482,0.488,0.478, 0.490,0.482,0.492,0.480,0.488,0.475,0.485,
  0.470,0.480,0.468,0.478,0.465,0.475,0.468, 0.478,0.465,0.480,0.470,0.468,0.465,0.472];
var s8t32GapAnswerRaw = [0.735,0.595,0.650,0.628,0.620,0.610,0.615,
  0.605,0.592,0.598,0.575,0.585,0.568,0.575, 0.555,0.568,0.548,0.560,0.540,0.552,0.545,
  0.535,0.548,0.530,0.542,0.528,0.538,0.525, 0.520,0.532,0.518,0.528,0.512,0.545,0.515,
  0.510,0.520,0.505,0.515,0.502,0.512,0.498, 0.508,0.502,0.512,0.500,0.508,0.498,0.505];
var s8t32GapVisualRaw = [0.750,0.625,0.640,0.615,0.610,0.602,0.608,
  0.590,0.580,0.585,0.565,0.572,0.552,0.560, 0.540,0.555,0.532,0.545,0.528,0.540,0.522,
  0.528,0.515,0.530,0.520,0.525,0.512,0.522, 0.510,0.522,0.505,0.518,0.502,0.515,0.500,
  0.508,0.495,0.510,0.498,0.508,0.500,0.512, 0.495,0.505,0.492,0.510,0.498,0.505,0.518];
var s8t32GapVicurRaw = [0.730,0.620,0.615,0.600,0.595,0.578,0.580,
  0.562,0.572,0.548,0.560,0.545,0.552,0.535, 0.548,0.530,0.545,0.525,0.540,0.518,0.532,
  0.512,0.525,0.505,0.520,0.508,0.518,0.502, 0.515,0.500,0.512,0.495,0.510,0.498,0.505,
  0.492,0.505,0.490,0.502,0.495,0.500,0.488, 0.498,0.490,0.502,0.485,0.500,0.492,0.495];

// ---- layout ----
var colLeft = [56, 369, 682, 996];
var colRight = [316, 632, 943, 1256];
var rowTop = [25, 220, 415];
var rowBottom = [204, 402, 599];
var xDomain = [-60, 1260];

var colorOf = {
  "baseline": "#1f77b4",
  "w/ visual cue": "#ff7f0e",
  "w/ cue recovery": "#2ca02c",
  "w/ answer": "#2ca02c",
  "ViCuR": "#d62728"
};
var textFont = "'Comic Sans MS', 'DejaVu Sans', sans-serif";
var tickFont = "'DejaVu Sans', sans-serif";

// panel table built from the arrays above
var panels = [
  { col: 0, row: 0, yDomain: [0.218, 0.607], yTicks: ticksTrain2t2, names: legendCue,
    lines: [s2t2TrainBaseline, s2t2TrainVisual, s2t2TrainRecovery, s2t2TrainVicur],
    raw: [s2t2TrainBaselineRaw, s2t2TrainVisualRaw, s2t2TrainRecoveryRaw, s2t2TrainVicurRaw],
    lo: [s2t2BandBaselineLo, s2t2BandVisualLo, s2t2BandRecoveryLo, s2t2BandVicurLo],
    hi: [s2t2BandBaselineHi, s2t2BandVisualHi, s2t2BandRecoveryHi, s2t2BandVicurHi] },
  { col: 1, row: 0, yDomain: [0.1905, 0.614], yTicks: ticksTrain2t8, names: legendAnswer,
    lines: [s2t8TrainBaseline, s2t8TrainAnswer, s2t8TrainVisual, s2t8TrainVicur],
    raw: [s2t8TrainBaselineRaw, s2t8TrainAnswerRaw, s2t8TrainVisualRaw, s2t8TrainVicurRaw],
    lo: [s2t8BandBaselineLo, s2t8BandAnswerLo, s2t8BandVisualLo, s2t8BandVicurLo],
    hi: [s2t8BandBaselineHi, s2t8BandAnswerHi, s2t8BandVisualHi, s2t8BandVicurHi] },
  { col: 2, row: 0, yDomain: [0.4222, 0.8623], yTicks: ticksTrain8t8, names: legendCue,
    lines: [s8t8TrainBaseline, s8t8TrainVisual, s8t8TrainRecovery, s8t8TrainVicur],
    raw: [s8t8TrainBaselineRaw, s8t8TrainVisualRaw, s8t8TrainRecoveryRaw, s8t8TrainVicurRaw],
    lo: [s8t8BandBaselineLo, s8t8BandVisualLo, s8t8BandRecoveryLo, s8t8BandVicurLo],
    hi: [s8t8BandBaselineHi, s8t8BandVisualHi, s8t8BandRecoveryHi, s8t8BandVicurHi] },
  { col: 3, row: 0, yDomain: [0.383, 0.870], yTicks: ticksTrain8t32, names: legendAnswer,
    lines: [s8t32TrainBaseline, s8t32TrainAnswer, s8t32TrainVisual, s8t32TrainVicur],
    raw: [s8t32TrainBaselineRaw, s8t32TrainAnswerRaw, s8t32TrainVisualRaw, s8t32TrainVicurRaw],
    lo: [s8t32BandBaselineLo, s8t32BandAnswerLo, s8t32BandVisualLo, s8t32BandVicurLo],
    hi: [s8t32BandBaselineHi, s8t32BandAnswerHi, s8t32BandVisualHi, s8t32BandVicurHi] },

  { col: 0, row: 1, yDomain: [0.2123, 0.4219], yTicks: ticksTest2t2, yLabels: labelsTest2t2, names: legendCue,
    lines: [s2t2TestBaseline, s2t2TestVisual, s2t2TestRecovery, s2t2TestVicur],
    raw: [s2t2TestBaselineRaw, s2t2TestVisualRaw, s2t2TestRecoveryRaw, s2t2TestVicurRaw] },
  { col: 1, row: 1, yDomain: [0.2326, 0.4304], yTicks: ticksTest2t8, yLabels: labelsTest2t8, names: legendAnswer,
    lines: [s2t8TestBaseline, s2t8TestAnswer, s2t8TestVisual, s2t8TestVicur],
    raw: [s2t8TestBaselineRaw, s2t8TestAnswerRaw, s2t8TestVisualRaw, s2t8TestVicurRaw] },
  { col: 2, row: 1, yDomain: [0.4229, 0.6106], yTicks: ticksTest8t8, yLabels: labelsTest8t8, names: legendCue,
    lines: [s8t8TestBaseline, s8t8TestVisual, s8t8TestRecovery, s8t8TestVicur],
    raw: [s8t8TestBaselineRaw, s8t8TestVisualRaw, s8t8TestRecoveryRaw, s8t8TestVicurRaw] },
  { col: 3, row: 1, yDomain: [0.4293, 0.6417], yTicks: ticksTest8t32, yLabels: labelsTest8t32, names: legendAnswer,
    lines: [s8t32TestBaseline, s8t32TestAnswer, s8t32TestVisual, s8t32TestVicur],
    raw: [s8t32TestBaselineRaw, s8t32TestAnswerRaw, s8t32TestVisualRaw, s8t32TestVicurRaw] },

  { col: 0, row: 2, yDomain: [0.6267, 0.7677], yTicks: ticksGap2t2, names: legendCue,
    lines: [s2t2GapBaseline, s2t2GapVisual, s2t2GapRecovery, s2t2GapVicur],
    raw: [s2t2GapBaselineRaw, s2t2GapVisualRaw, s2t2GapRecoveryRaw, s2t2GapVicurRaw] },
  { col: 1, row: 2, yDomain: [0.5382, 0.9186], yTicks: ticksGap2t8, names: legendAnswer,
    lines: [s2t8GapBaseline, s2t8GapAnswer, s2t8GapVisual, s2t8GapVicur],
    raw: [s2t8GapBaselineRaw, s2t8GapAnswerRaw, s2t8GapVisualRaw, s2t8GapVicurRaw] },
  { col: 2, row: 2, yDomain: [0.3109, 0.6196], yTicks: ticksGap8t8, names: legendCue,
    lines: [s8t8GapBaseline, s8t8GapVisual, s8t8GapRecovery, s8t8GapVicur],
    raw: [s8t8GapBaselineRaw, s8t8GapVisualRaw, s8t8GapRecoveryRaw, s8t8GapVicurRaw] },
  { col: 3, row: 2, yDomain: [0.446, 0.7675], yTicks: ticksGap8t32, names: legendAnswer,
    lines: [s8t32GapBaseline, s8t32GapAnswer, s8t32GapVisual, s8t32GapVicur],
    raw: [s8t32GapBaselineRaw, s8t32GapAnswerRaw, s8t32GapVisualRaw, s8t32GapVicurRaw] }
];

function toPoints(steps, values) {
  return values.map(function (v, i) { return [steps[i], v]; });
}

var svg = d3.select("#chart");
var defs = svg.append("defs");

panels.forEach(function (p, pi) {
  var left = colLeft[p.col], right = colRight[p.col];
  var top = rowTop[p.row], bottom = rowBottom[p.row];

  var x = d3.scaleLinear().domain(xDomain).range([left, right]);
  var y = d3.scaleLinear().domain(p.yDomain).range([bottom, top]);

  defs.append("clipPath").attr("id", "clip" + pi)
    .append("rect")
    .attr("x", left).attr("y", top)
    .attr("width", right - left).attr("height", bottom - top);

  var g = svg.append("g");

  // dashed horizontal grid
  g.selectAll(".grid")
    .data(p.yTicks)
    .enter()
    .append("line")
    .attr("x1", left).attr("x2", right)
    .attr("y1", function (d) { return y(d); })
    .attr("y2", function (d) { return y(d); })
    .attr("stroke", "#d4d4d4")
    .attr("stroke-width", 0.8)
    .attr("stroke-dasharray", "4,3");

  var plot = g.append("g").attr("clip-path", "url(#clip" + pi + ")");
  var line = d3.line().x(function (d) { return x(d[0]); }).y(function (d) { return y(d[1]); });

  if (p.row === 0) {
    // faint spread of the per-step training readings
    var area = d3.area()
      .x(function (d) { return x(d[0]); })
      .y0(function (d) { return y(d[1]); })
      .y1(function (d) { return y(d[2]); });
    p.lo.forEach(function (lo, k) {
      var pts = lo.map(function (v, i) { return [bandSteps[i], v, p.hi[k][i]]; });
      plot.append("path")
        .attr("d", area(pts))
        .attr("fill", colorOf[p.names[k]])
        .attr("fill-opacity", 0.09);
    });
    p.raw.forEach(function (vals, k) {
      plot.append("path")
        .attr("d", line(toPoints(rawSteps, vals)))
        .attr("fill", "none")
        .attr("stroke", colorOf[p.names[k]])
        .attr("stroke-width", 1)
        .attr("stroke-opacity", 0.2);
    });
    p.lines.forEach(function (vals, k) {
      plot.append("path")
        .attr("d", line(toPoints(rawSteps, vals)))
        .attr("fill", "none")
        .attr("stroke", colorOf[p.names[k]])
        .attr("stroke-width", 2.6)
        .attr("stroke-linejoin", "round");
    });
  } else {
    p.raw.forEach(function (vals, k) {
      plot.append("path")
        .attr("d", line(toPoints(rawSteps, vals)))
        .attr("fill", "none")
        .attr("stroke", colorOf[p.names[k]])
        .attr("stroke-width", 1)
        .attr("stroke-opacity", 0.28);
    });
    p.lines.forEach(function (vals, k) {
      plot.append("path")
        .attr("d", line(toPoints(smoothSteps, vals)))
        .attr("fill", "none")
        .attr("stroke", colorOf[p.names[k]])
        .attr("stroke-width", 1.7)
        .attr("stroke-linejoin", "round");
    });
  }

  // y axis
  var yAxis = d3.axisLeft(y)
    .tickValues(p.yTicks)
    .tickSize(4)
    .tickPadding(6)
    .tickFormat(function (d, i) { return p.yLabels ? p.yLabels[i] : d3.format(".2f")(d); });
  var ya = g.append("g").attr("transform", "translate(" + left + ",0)").call(yAxis);
  ya.select(".domain").remove();
  ya.selectAll("line").attr("stroke", "#222");
  ya.selectAll("text").attr("font-family", tickFont).attr("font-size", 9).attr("fill", "#222");

  // x axis (labels only on the bottom row)
  var xAxis = d3.axisBottom(x)
    .tickValues(xTicks)
    .tickSize(4)
    .tickPadding(3.5)
    .tickFormat(p.row === 2 ? d3.format("d") : "");
  var xa = g.append("g").attr("transform", "translate(0," + bottom + ")").call(xAxis);
  xa.select(".domain").remove();
  xa.selectAll("line").attr("stroke", "#222");
  xa.selectAll("text").attr("font-family", tickFont).attr("font-size", 9).attr("fill", "#222");

  // frame
  g.append("rect")
    .attr("x", left).attr("y", top)
    .attr("width", right - left).attr("height", bottom - top)
    .attr("fill", "none")
    .attr("stroke", "#222")
    .attr("stroke-width", 1.3);

  // axis labels
  g.append("text")
    .attr("transform", "translate(" + (left - 40) + "," + (top + bottom) / 2 + ") rotate(-90)")
    .attr("dy", "0.35em")
    .attr("text-anchor", "middle")
    .attr("font-family", textFont)
    .attr("font-weight", "bold")
    .attr("font-size", 11)
    .attr("fill", "#111")
    .text(rowLabels[p.row]);

  if (p.row === 0) {
    g.append("text")
      .attr("x", (left + right) / 2).attr("y", 19)
      .attr("text-anchor", "middle")
      .attr("font-family", textFont)
      .attr("font-weight", "bold")
      .attr("font-size", 13.5)
      .attr("fill", "#111")
      .text(titles[p.col]);
  }
  if (p.row === 2) {
    g.append("text")
      .attr("x", (left + right) / 2).attr("y", 632)
      .attr("text-anchor", "middle")
      .attr("font-family", textFont)
      .attr("font-weight", "bold")
      .attr("font-size", 11)
      .attr("fill", "#111")
      .text("Step");
  }

  // legend, right aligned; bottom for accuracy rows, top for gap row
  var leg = g.append("g");
  var items = leg.selectAll("g")
    .data(p.names)
    .enter()
    .append("g")
    .attr("transform", function (d, i) {
      var cy = p.row === 2 ? top + 11 + i * 12.3 : bottom - 9 - (3 - i) * 12.3;
      return "translate(0," + cy + ")";
    });
  items.append("line")
    .attr("x1", 0).attr("x2", 14)
    .attr("stroke", function (d) { return colorOf[d]; })
    .attr("stroke-width", 1.8);
  items.append("text")
    .attr("x", 20)
    .attr("dy", "0.35em")
    .attr("font-family", textFont)
    .attr("font-size", 8.5)
    .attr("fill", "#111")
    .text(function (d) { return d; });
  var maxW = d3.max(items.selectAll("text").nodes(), function (n) { return n.getComputedTextLength(); });
  leg.attr("transform", "translate(" + (right - 6 - 20 - maxW) + ",0)");
});
</script>
</body>
</html>
